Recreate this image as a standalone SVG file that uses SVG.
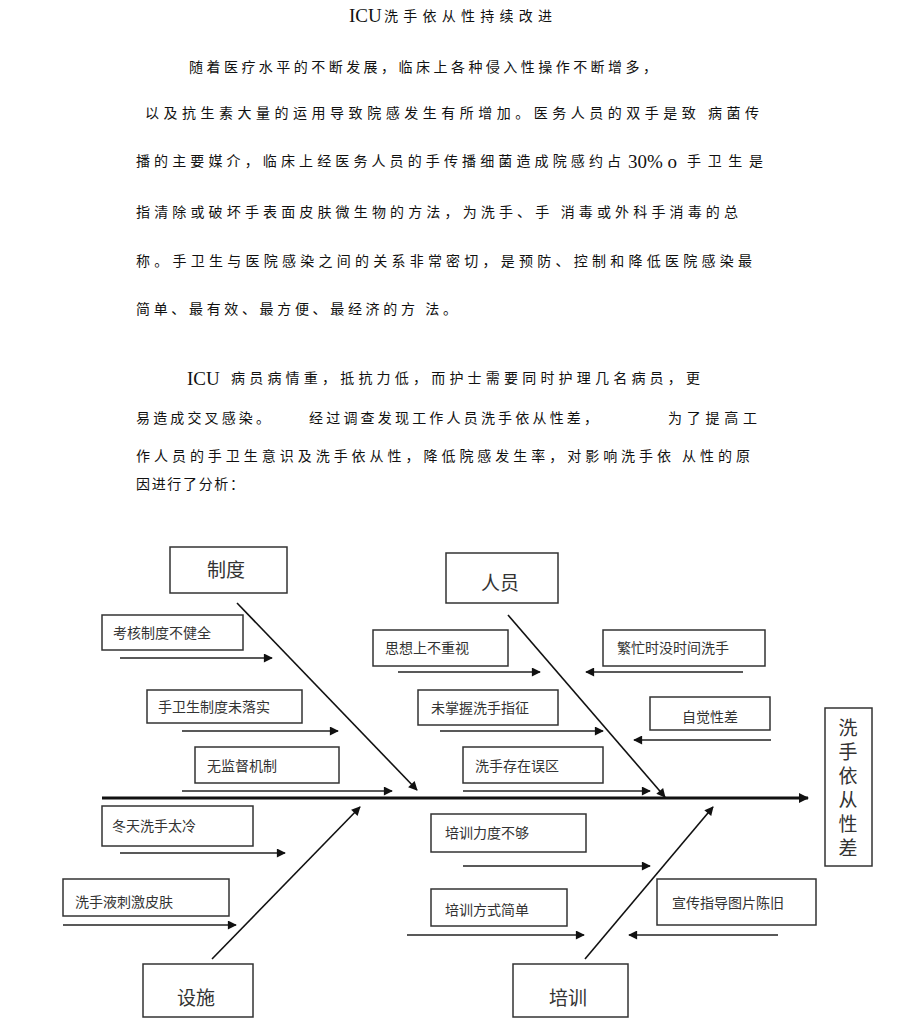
<svg xmlns="http://www.w3.org/2000/svg" width="920" height="1028" viewBox="0 0 920 1028">
<defs>
<style>
.p{font-family:"Noto Sans CJK SC","Noto Sans",sans-serif;font-size:14px;fill:#111;}
.s{font-family:"Liberation Serif",serif;font-size:19px;}
.b{fill:#fff;stroke:#333;stroke-width:1.5;}
.l{font-family:"Noto Sans CJK SC","Noto Sans",sans-serif;font-size:14px;fill:#333;}
.h{font-family:"Noto Sans CJK SC","Noto Sans",sans-serif;font-size:19px;fill:#333;text-anchor:middle;}
.a{stroke:#222;stroke-width:1.5;fill:none;marker-end:url(#ah);}
.d{stroke:#111;stroke-width:1.6;fill:none;marker-end:url(#ah);}
</style>
<marker id="ah" viewBox="0 0 10 10" refX="9" refY="5" markerWidth="11" markerHeight="9" markerUnits="userSpaceOnUse" orient="auto"><path d="M0,0 L10,5 L0,10 z" fill="#111"/></marker>
<marker id="am" viewBox="0 0 10 10" refX="9" refY="5" markerWidth="14" markerHeight="10" markerUnits="userSpaceOnUse" orient="auto"><path d="M0,0 L10,5 L0,10 z" fill="#111"/></marker>
</defs>
<rect width="920" height="1028" fill="#fff"/>
<g id="text">
<text class="p s" x="349" y="22" font-size="18">ICU</text>
<text class="p" x="384" y="21" textLength="168" lengthAdjust="spacing">洗手依从性持续改进</text>
<text class="p" x="189" y="72" textLength="468" lengthAdjust="spacing">随着医疗水平的不断发展，临床上各种侵入性操作不断增多，</text>
<text class="p" x="145" y="118" textLength="614" lengthAdjust="spacing">以及抗生素大量的运用导致院感发生有所增加。医务人员的双手是致 病菌传</text>
<text class="p" x="136" y="166" textLength="485" lengthAdjust="spacing">播的主要媒介，临床上经医务人员的手传播细菌造成院感约占</text>
<text class="p s" x="628" y="168" font-size="20">30% o</text>
<text class="p" x="687" y="166" textLength="76" lengthAdjust="spacing">手卫生是</text>
<text class="p" x="136" y="217" textLength="602" lengthAdjust="spacing">指清除或破坏手表面皮肤微生物的方法，为洗手、手 消毒或外科手消毒的总</text>
<text class="p" x="136" y="266" textLength="616" lengthAdjust="spacing">称。手卫生与医院感染之间的关系非常密切，是预防、控制和降低医院感染最</text>
<text class="p" x="136" y="314" textLength="321" lengthAdjust="spacing">简单、最有效、最方便、最经济的方 法。</text>
<text class="p s" x="187" y="385" font-size="20">ICU</text>
<text class="p" x="231" y="383" textLength="469" lengthAdjust="spacing">病员病情重，抵抗力低，而护士需要同时护理几名病员，更</text>
<text class="p" x="136" y="423" textLength="134" lengthAdjust="spacing">易造成交叉感染。</text>
<text class="p" x="309" y="423" textLength="289" lengthAdjust="spacing">经过调查发现工作人员洗手依从性差，</text>
<text class="p" x="668" y="423" textLength="89" lengthAdjust="spacing">为了提高工</text>
<text class="p" x="136" y="461" textLength="614" lengthAdjust="spacing">作人员的手卫生意识及洗手依从性，降低院感发生率，对影响洗手依 从性的原</text>
<text class="p" x="136" y="489" textLength="108" lengthAdjust="spacing">因进行了分析：</text>
</g>
<g id="connectors">
<line x1="102" y1="798" x2="808" y2="798" stroke="#111" stroke-width="3" marker-end="url(#am)"/>
<line class="d" x1="237" y1="603" x2="417" y2="790"/>
<line class="d" x1="508" y1="615" x2="665" y2="797"/>
<line class="d" x1="212" y1="959" x2="360" y2="807"/>
<line class="d" x1="585" y1="959" x2="713" y2="807"/>
<line class="a" x1="120" y1="658" x2="272" y2="658"/>
<line class="a" x1="182" y1="731" x2="338" y2="731"/>
<line class="a" x1="182" y1="791" x2="392" y2="791"/>
<line class="a" x1="398" y1="672" x2="540" y2="672"/>
<line class="a" x1="743" y1="672" x2="586" y2="672"/>
<line class="a" x1="440" y1="731" x2="603" y2="731"/>
<line class="a" x1="771" y1="740" x2="634" y2="740"/>
<line class="a" x1="463" y1="791" x2="650" y2="791"/>
<line class="a" x1="120" y1="853" x2="285" y2="853"/>
<line class="a" x1="63" y1="925" x2="236" y2="925"/>
<line class="a" x1="463" y1="866" x2="650" y2="866"/>
<line class="a" x1="407" y1="935" x2="584" y2="935"/>
<line class="a" x1="778" y1="935" x2="629" y2="935"/>
</g>
<g id="n-zhidu"><rect class="b" x="170" y="547" width="117" height="46"/><text class="h" x="226" y="577">制度</text></g>
<g id="n-renyuan"><rect class="b" x="446" y="553" width="112" height="50"/><text class="h" x="500" y="590">人员</text></g>
<g id="n-sheshi"><rect class="b" x="143" y="964" width="110" height="53"/><text class="h" x="196" y="1005">设施</text></g>
<g id="n-peixun"><rect class="b" x="513" y="964" width="115" height="53"/><text class="h" x="568" y="1005">培训</text></g>
<g id="n-result"><rect class="b" x="825" y="708" width="47" height="158"/>
<text x="848" y="718" style="writing-mode:vertical-rl;letter-spacing:5px;font-family:'Noto Sans CJK SC','Noto Sans',sans-serif;font-size:19px;fill:#333;">洗手依从性差</text></g>
<g id="c1"><rect class="b" x="102" y="615" width="141" height="35"/><text class="l" x="113" y="638">考核制度不健全</text></g>
<g id="c2"><rect class="b" x="147" y="690" width="155" height="33"/><text class="l" x="158" y="712">手卫生制度未落实</text></g>
<g id="c3"><rect class="b" x="195" y="747" width="144" height="36"/><text class="l" x="207" y="771">无监督机制</text></g>
<g id="c4"><rect class="b" x="373" y="630" width="135" height="36"/><text class="l" x="385" y="653">思想上不重视</text></g>
<g id="c5"><rect class="b" x="603" y="630" width="162" height="36"/><text class="l" x="617" y="653">繁忙时没时间洗手</text></g>
<g id="c6"><rect class="b" x="418" y="690" width="140" height="35"/><text class="l" x="431" y="713">未掌握洗手指征</text></g>
<g id="c7"><rect class="b" x="650" y="697" width="120" height="33"/><text class="l" x="682" y="722">自觉性差</text></g>
<g id="c8"><rect class="b" x="463" y="747" width="140" height="36"/><text class="l" x="475" y="771">洗手存在误区</text></g>
<g id="c9"><rect class="b" x="102" y="806" width="151" height="40"/><text class="l" x="112" y="831">冬天洗手太冷</text></g>
<g id="c10"><rect class="b" x="63" y="879" width="166" height="37"/><text class="l" x="75" y="907" font-size="17">洗手液刺激皮肤</text></g>
<g id="c11"><rect class="b" x="431" y="814" width="155" height="38"/><text class="l" x="445" y="838">培训力度不够</text></g>
<g id="c12"><rect class="b" x="431" y="889" width="136" height="37"/><text class="l" x="445" y="915">培训方式简单</text></g>
<g id="c13"><rect class="b" x="657" y="879" width="159" height="46"/><text class="l" x="672" y="908">宣传指导图片陈旧</text></g>
</svg>
